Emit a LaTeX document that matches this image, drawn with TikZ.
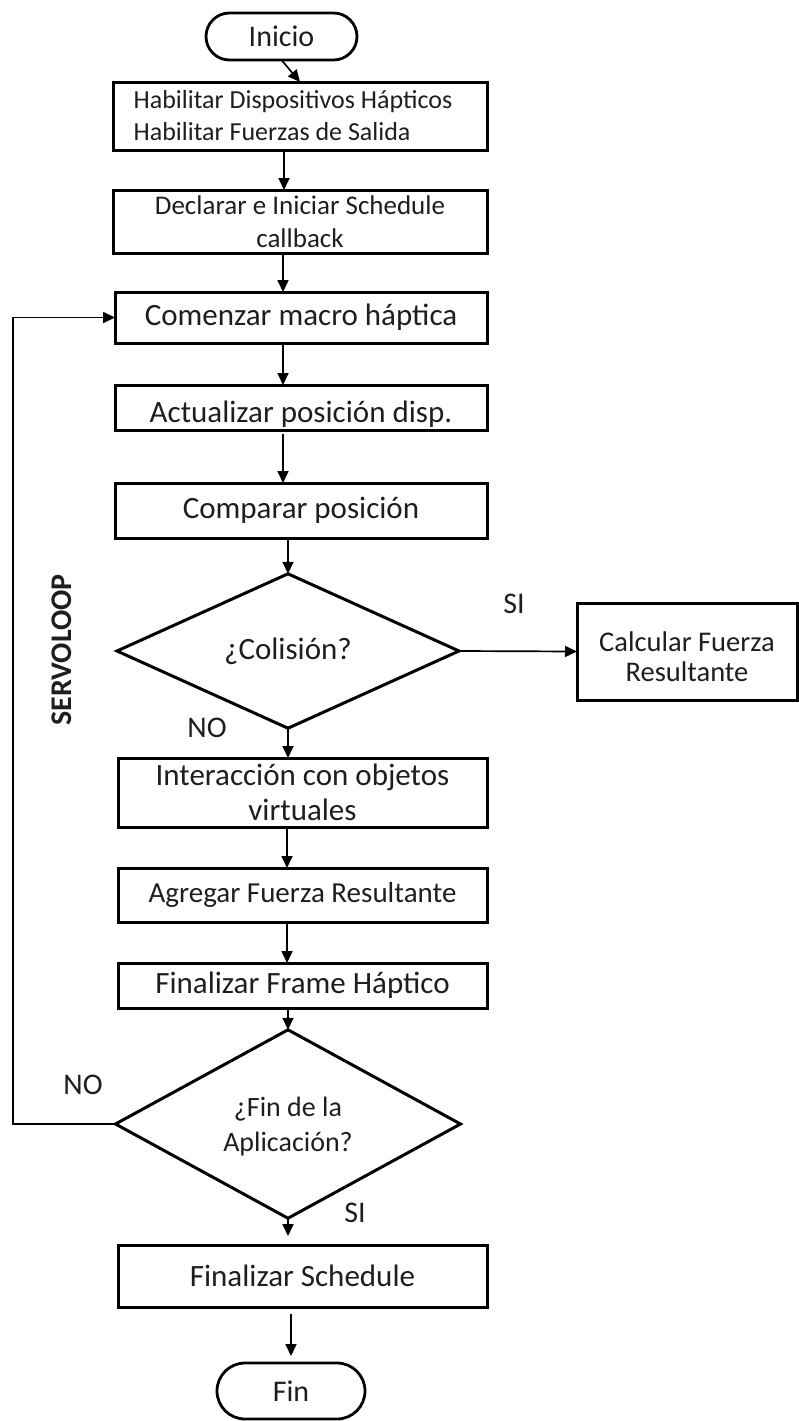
\documentclass[tikz,border=0pt]{standalone}
\usepackage{fontspec}
\setmainfont{Carlito}
\usetikzlibrary{shapes.geometric,shapes.misc,arrows.meta}
\definecolor{ink}{HTML}{1E1E1E}
\newcommand\fsize[2]{\fontsize{#1}{#2}\selectfont}

\begin{document}
\begin{tikzpicture}[x=1pt,y=-1pt,
  every node/.style={inner sep=0pt, outer sep=0pt, text=ink},
  proc/.style={draw=black, line width=3pt, rectangle, align=center},
  term/.style={draw=black, line width=2.8pt, rounded rectangle, align=center},
  decide/.style={draw=black, line width=3pt, diamond, align=center},
  tag/.style={font=\fsize{30}{34}},
  arr/.style={draw=black, line width=1.7pt, -{Triangle[length=12pt,width=11pt]}}
]
\useasboundingbox (0,0) rectangle (799,1421);

% terminals
\node[term, minimum width=151, minimum height=47, font=\fsize{30}{34}] (ini) at (281.5,36.5) {Inicio};
\node[term, minimum width=148, minimum height=56, font=\fsize{30}{34}] (fin) at (291,1391) {Fin};

% process boxes
\node[proc, minimum width=374, minimum height=68, align=left,
      font=\fsize{26}{32}] (hab) at (300,116)
      {\hspace*{-14pt}Habilitar Dispositivos Hápticos\\\hspace*{-14pt}Habilitar Fuerzas de Salida};
\node[proc, minimum width=374, minimum height=63, font=\fsize{27}{33}] (dec) at (300,221.5)
      {Declarar e Iniciar Schedule\\callback};
\node[proc, minimum width=372, minimum height=51, font=\fsize{31}{35}] (com) at (301,317.5)
      {Comenzar macro háptica};
\node[proc, minimum width=372, minimum height=45, font=\fsize{31}{35}] (act) at (301,407.5)
      {\raisebox{-7pt}[\height][\depth]{Actualizar posición disp.}};
\node[proc, minimum width=372, minimum height=55, font=\fsize{31}{35}] (cmp) at (301,510.5)
      {Comparar posición};
\node[proc, minimum width=369, minimum height=69, font=\fsize{31}{35}] (int) at (302.5,792.5)
      {Interacción con objetos\\virtuales};
\node[proc, minimum width=369, minimum height=54, font=\fsize{29}{34}] (agr) at (302.5,895)
      {Agregar Fuerza Resultante};
\node[proc, minimum width=369, minimum height=45, font=\fsize{31}{35}] (fhp) at (302.5,985.5)
      {Finalizar Frame Háptico};
\node[proc, minimum width=369, minimum height=62, font=\fsize{31}{35}] (fsch) at (302.5,1276)
      {Finalizar Schedule};
\node[proc, minimum width=220, minimum height=97, font=\fsize{28.5}{30}] (cal) at (687,651.5)
      {\raisebox{-5pt}[\height][\depth]{Calcular Fuerza}\\\raisebox{-5pt}[\height][\depth]{Resultante}};

% decisions
\node[decide, minimum width=342, minimum height=142, font=\fsize{31}{35}] (col) at (288,651)
      {¿Colisión?};
\node[decide, minimum width=345, minimum height=140, font=\fsize{28}{35}] (app) at (288,1124)
      {\raisebox{-3pt}[\height][\depth]{¿Fin de la}\\\raisebox{-3pt}[\height][\depth]{Aplicación?}};

% branch labels
\node[tag] (siA) at (514,604) {SI};
\node[tag] (noA) at (207,728) {NO};
\node[tag] (noB) at (83,1085) {NO};
\node[tag] (siB) at (355,1213) {SI};
\node[font=\bfseries\fsize{30}{34}, rotate=90] (loopname) at (62,650) {SERVOLOOP};

% main flow
\draw[arr] (ini.south) -- (hab.north);
\draw[arr] ([xshift=-16]hab.south) -- ([xshift=-16]dec.north);
\draw[arr] ([xshift=-17]dec.south) -- ([xshift=-18]com.north);
\draw[arr] ([xshift=-18]com.south) -- ([xshift=-18]act.north);
\draw[arr, shorten <=4pt] ([xshift=-18]act.south) -- ([xshift=-18]cmp.north);
\draw[arr] ([xshift=-13]cmp.south) -- (col.north);
\draw[arr] (col.south) -- ([xshift=-14.5]int.north);
\draw[arr] ([xshift=-15.5]int.south) -- ([xshift=-15.5]agr.north);
\draw[arr] ([xshift=-15.5]agr.south) -- ([xshift=-15.5]fhp.north);
\draw[arr] ([xshift=-14.5]fhp.south) -- (app.north);
\draw[arr, shorten >=9pt] (app.south) -- ([xshift=-14.5]fsch.north);
\draw[arr, shorten <=7pt, shorten >=7pt] ([xshift=-11.5]fsch.south) -- (fin.north);
\draw[arr] (col.east) -- (cal.west);

% servo loop back to the start of the haptic frame
\coordinate (loopcorner) at (13,1124);
\draw[arr] (app.west) -- (loopcorner) |- (com.west);
\end{tikzpicture}
\end{document}
